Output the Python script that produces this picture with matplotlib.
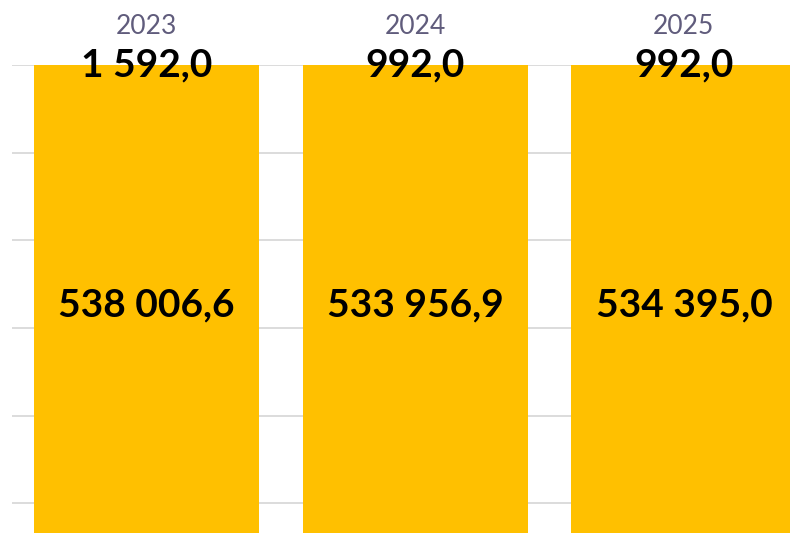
import matplotlib
matplotlib.use("Agg")
import matplotlib.pyplot as plt
import numpy as np

# Data
years = ["2023", "2024", "2025"]
base_values = [538006.6, 533956.9, 534395.0]
extra_values = [1592.0, 992.0, 992.0]

# Value axis upper limit (bars run past it and are clipped)
AXIS_MAX = 530000
GRID_STEP = 96800

BAR_COLOR = "#FFC000"
YEAR_COLOR = "#605C7C"
GRID_COLOR = "#D9D9D9"


def fmt(v):
    s = f"{v:,.1f}"
    return s.replace(",", " ").replace(".", ",")


W, H = 790, 533
fig = plt.figure(figsize=(W / 100, H / 100), dpi=100)
plt.rcParams["font.family"] = ["Lato", "DejaVu Sans"]

left_px, top_px, bottom_px, right_px = 12, 65, 545, 12 + 3 * 268.75
ax = fig.add_axes([left_px / W, (H - bottom_px) / H,
                   (right_px - left_px) / W, (bottom_px - top_px) / H])

x = np.arange(len(years))
ax.bar(x, base_values, width=0.837, color=BAR_COLOR, zorder=2)
ax.bar(x, extra_values, bottom=base_values, width=0.837, color=BAR_COLOR,
       zorder=2)

ax.set_xlim(-0.5, len(years) - 0.5)
ax.set_ylim(0, AXIS_MAX)

for g in AXIS_MAX - np.arange(6) * GRID_STEP:
    ax.axhline(g, color=GRID_COLOR, lw=1.3, zorder=1)

for spine in ax.spines.values():
    spine.set_visible(False)
ax.set_yticks([])
ax.xaxis.tick_top()
ax.set_xticks(x)
ax.set_xticklabels(years, fontsize=19, color=YEAR_COLOR)
ax.tick_params(axis="x", length=0, pad=19)

# Value labels at the centre of the visible part of each segment
for i in range(len(years)):
    lo, hi = 0, min(base_values[i], AXIS_MAX)
    ax.text(x[i], (lo + hi) / 2, fmt(base_values[i]), ha="center",
            va="center", fontsize=28, fontweight="bold", color="black",
            zorder=3)
    ax.text(x[i], AXIS_MAX, fmt(extra_values[i]), ha="center",
            va="center", fontsize=28, fontweight="bold", color="black",
            zorder=3, clip_on=False)

fig.savefig("out.png", dpi=100)
